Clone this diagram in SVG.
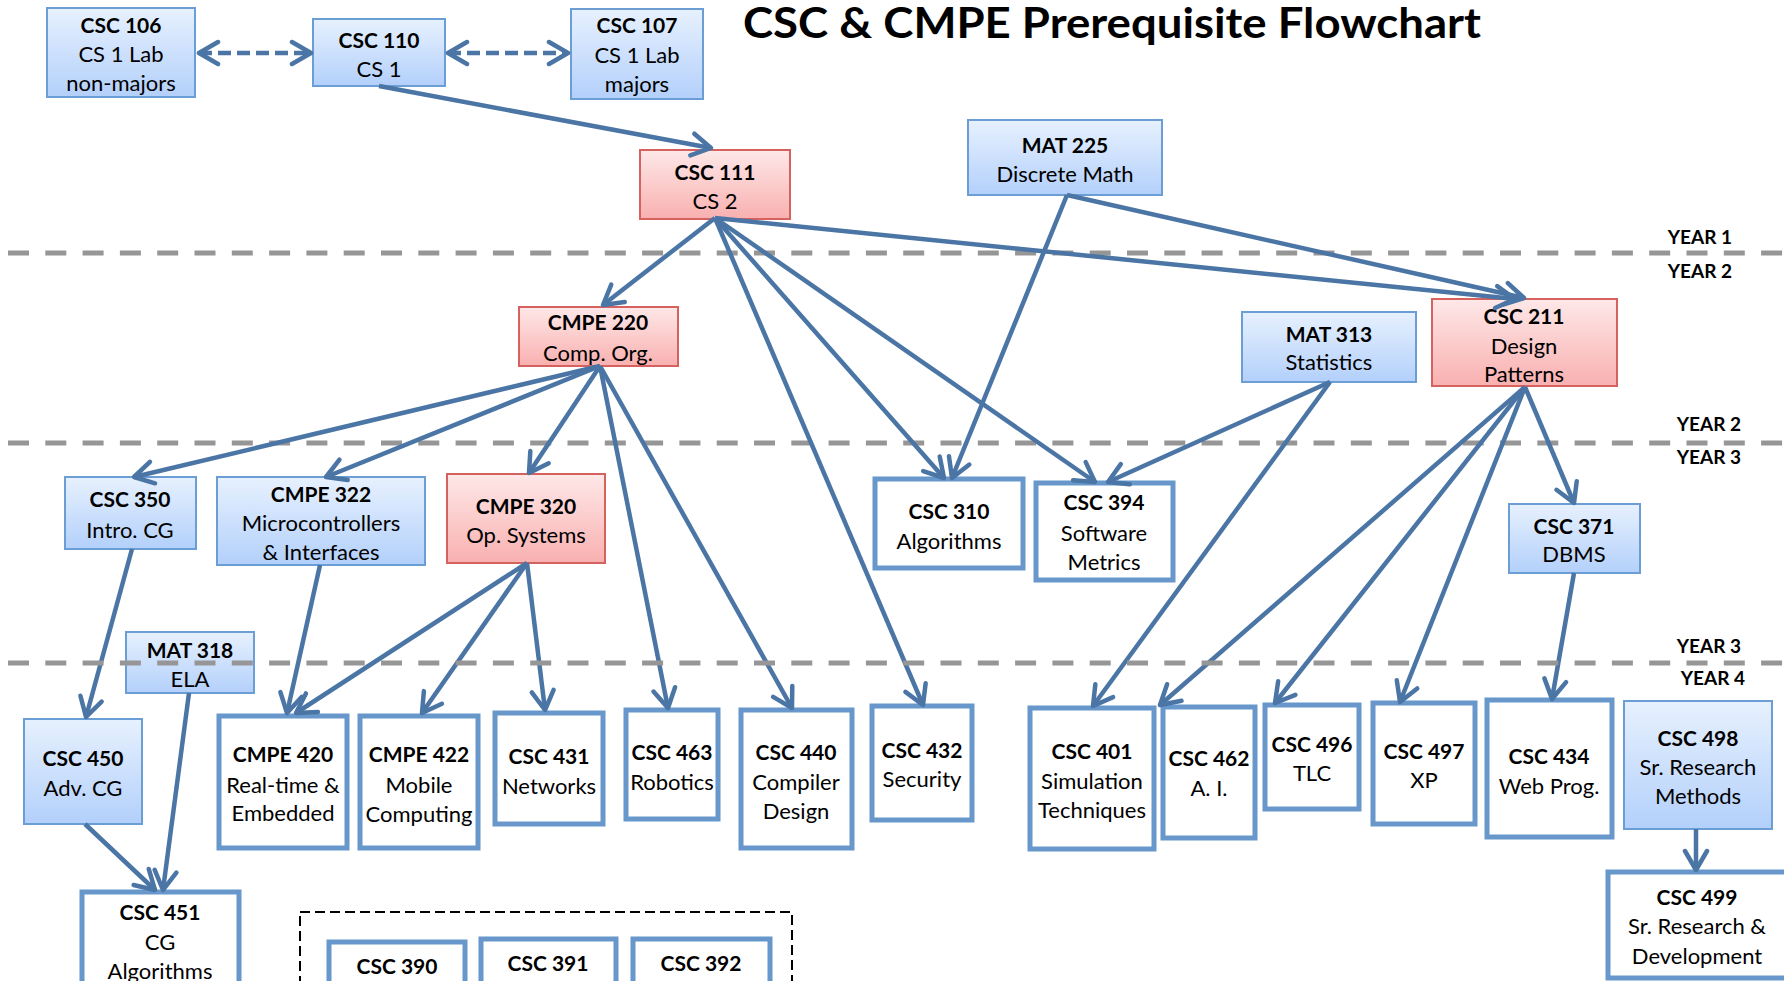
<svg xmlns="http://www.w3.org/2000/svg" width="1784" height="981" viewBox="0 0 1784 981">
<style>
.bl{fill:url(#gb);stroke:#6c9ed6;stroke-width:2}
.rd{fill:url(#gr);stroke:#d5625f;stroke-width:2}
.wt{fill:#ffffff;stroke:#6797cb;stroke-width:5}
text{font-family:Lato,"Liberation Sans",sans-serif;font-size:22px;text-anchor:middle;fill:#000}
.b{font-weight:bold;font-size:21px}
.yr{font-weight:bold;font-size:19px;text-anchor:end}
.title{font-weight:bold;font-size:42px}
.c line{stroke:#4a75a5;stroke-width:4.5;fill:none;marker-end:url(#ah)}
.c line.d{stroke-dasharray:13 6;marker-start:url(#ah)}
.yl{stroke:#969696;stroke-width:5;stroke-dasharray:21 16.3}
</style>
<defs>
<linearGradient id="gb" x1="0" y1="0" x2="0" y2="1"><stop offset="0" stop-color="#e7f1fe"/><stop offset="1" stop-color="#b3d0fb"/></linearGradient>
<linearGradient id="gr" x1="0" y1="0" x2="0" y2="1"><stop offset="0" stop-color="#fee8e8"/><stop offset="1" stop-color="#f9b0b0"/></linearGradient>
<marker id="ah" markerUnits="userSpaceOnUse" viewBox="-24 -14 28 28" markerWidth="28" markerHeight="28" refX="0" refY="0" orient="auto-start-reverse"><path d="M-19,-11 L0,0 L-19,11" fill="none" stroke="#4a75a5" stroke-width="4.5" stroke-linecap="round" stroke-linejoin="round"/></marker>
</defs>
<rect width="1784" height="981" fill="#ffffff"/>

<text class="title" x="1112" y="38" textLength="738" lengthAdjust="spacingAndGlyphs">CSC &amp; CMPE Prerequisite Flowchart</text>

<g id="year-lines">
<line class="yl" x1="8" y1="253" x2="1784" y2="253"/>
<line class="yl" x1="8" y1="443" x2="1784" y2="443"/>
<text class="yr" x="1732" y="244">YEAR 1</text>
<text class="yr" x="1732" y="278">YEAR 2</text>
<text class="yr" x="1741" y="431">YEAR 2</text>
<text class="yr" x="1741" y="464">YEAR 3</text>
<text class="yr" x="1741" y="653">YEAR 3</text>
<text class="yr" x="1745" y="685">YEAR 4</text>
</g>

<g id="dashed-group"><rect x="300" y="912" width="492" height="100" fill="none" stroke="#000" stroke-width="2" stroke-dasharray="10 5"/></g>

<g id="csc106"><rect class="bl" x="47" y="8" width="148" height="89"/><text class="b" x="121" y="33">CSC 106</text><text x="121" y="62">CS 1 Lab</text><text x="121" y="91">non-majors</text></g>
<g id="csc110"><rect class="bl" x="313" y="19" width="132" height="67"/><text class="b" x="379" y="48">CSC 110</text><text x="379" y="77">CS 1</text></g>
<g id="csc107"><rect class="bl" x="571" y="9" width="132" height="90"/><text class="b" x="637" y="33">CSC 107</text><text x="637" y="63">CS 1 Lab</text><text x="637" y="92">majors</text></g>
<g id="csc111"><rect class="rd" x="640" y="150" width="150" height="69"/><text class="b" x="715" y="180">CSC 111</text><text x="715" y="209">CS 2</text></g>
<g id="mat225"><rect class="bl" x="968" y="120" width="194" height="75"/><text class="b" x="1065" y="153">MAT 225</text><text x="1065" y="182">Discrete Math</text></g>
<g id="cmpe220"><rect class="rd" x="519" y="307" width="159" height="59"/><text class="b" x="598" y="330">CMPE 220</text><text x="598" y="361">Comp. Org.</text></g>
<g id="mat313"><rect class="bl" x="1242" y="312" width="174" height="70"/><text class="b" x="1329" y="342">MAT 313</text><text x="1329" y="370">Statistics</text></g>
<g id="csc211"><rect class="rd" x="1432" y="299" width="185" height="87"/><text class="b" x="1524" y="324">CSC 211</text><text x="1524" y="354">Design</text><text x="1524" y="382">Patterns</text></g>
<g id="csc350"><rect class="bl" x="65" y="477" width="131" height="72"/><text class="b" x="130" y="507">CSC 350</text><text x="130" y="538">Intro. CG</text></g>
<g id="cmpe322"><rect class="bl" x="217" y="477" width="208" height="88"/><text class="b" x="321" y="502">CMPE 322</text><text x="321" y="531">Microcontrollers</text><text x="321" y="560">&amp; Interfaces</text></g>
<g id="cmpe320"><rect class="rd" x="447" y="474" width="158" height="89"/><text class="b" x="526" y="514">CMPE 320</text><text x="526" y="543">Op. Systems</text></g>
<g id="csc310"><rect class="wt" x="875" y="479" width="148" height="89"/><text class="b" x="949" y="519">CSC 310</text><text x="949" y="549">Algorithms</text></g>
<g id="csc394"><rect class="wt" x="1036" y="483" width="137" height="97"/><text class="b" x="1104" y="510">CSC 394</text><text x="1104" y="541">Software</text><text x="1104" y="570">Metrics</text></g>
<g id="csc371"><rect class="bl" x="1509" y="504" width="131" height="69"/><text class="b" x="1574" y="534">CSC 371</text><text x="1574" y="562">DBMS</text></g>
<g id="mat318"><rect class="bl" x="126" y="632" width="128" height="61"/><text class="b" x="190" y="658">MAT 318</text><text x="190" y="687">ELA</text></g>
<g id="csc450"><rect class="bl" x="24" y="719" width="118" height="105"/><text class="b" x="83" y="766">CSC 450</text><text x="83" y="796">Adv. CG</text></g>
<g id="cmpe420"><rect class="wt" x="219" y="716" width="128" height="132"/><text class="b" x="283" y="762">CMPE 420</text><text x="283" y="793">Real-time &amp;</text><text x="283" y="821">Embedded</text></g>
<g id="cmpe422"><rect class="wt" x="360" y="716" width="118" height="132"/><text class="b" x="419" y="762">CMPE 422</text><text x="419" y="793">Mobile</text><text x="419" y="822">Computing</text></g>
<g id="csc431"><rect class="wt" x="495" y="713" width="108" height="111"/><text class="b" x="549" y="764">CSC 431</text><text x="549" y="794">Networks</text></g>
<g id="csc463"><rect class="wt" x="626" y="710" width="92" height="109"/><text class="b" x="672" y="760">CSC 463</text><text x="672" y="790">Robotics</text></g>
<g id="csc440"><rect class="wt" x="741" y="710" width="111" height="138"/><text class="b" x="796" y="760">CSC 440</text><text x="796" y="790">Compiler</text><text x="796" y="819">Design</text></g>
<g id="csc432"><rect class="wt" x="872" y="706" width="100" height="114"/><text class="b" x="922" y="758">CSC 432</text><text x="922" y="787">Security</text></g>
<g id="csc401"><rect class="wt" x="1030" y="708" width="124" height="141"/><text class="b" x="1092" y="759">CSC 401</text><text x="1092" y="789">Simulation</text><text x="1092" y="818">Techniques</text></g>
<g id="csc462"><rect class="wt" x="1163" y="707" width="92" height="131"/><text class="b" x="1209" y="766">CSC 462</text><text x="1209" y="796">A. I.</text></g>
<g id="csc496"><rect class="wt" x="1265" y="705" width="94" height="104"/><text class="b" x="1312" y="752">CSC 496</text><text x="1312" y="781">TLC</text></g>
<g id="csc497"><rect class="wt" x="1373" y="703" width="102" height="121"/><text class="b" x="1424" y="759">CSC 497</text><text x="1424" y="788">XP</text></g>
<g id="csc434"><rect class="wt" x="1487" y="700" width="125" height="137"/><text class="b" x="1549" y="764">CSC 434</text><text x="1549" y="794">Web Prog.</text></g>
<g id="csc498"><rect class="bl" x="1624" y="701" width="148" height="128"/><text class="b" x="1698" y="746">CSC 498</text><text x="1698" y="775">Sr. Research</text><text x="1698" y="804">Methods</text></g>
<g id="csc499"><rect class="wt" x="1608" y="872" width="180" height="106"/><text class="b" x="1697" y="905">CSC 499</text><text x="1697" y="934">Sr. Research &amp;</text><text x="1697" y="964">Development</text></g>
<g id="csc451"><rect class="wt" x="82" y="892" width="157" height="110"/><text class="b" x="160" y="920">CSC 451</text><text x="160" y="950">CG</text><text x="160" y="979">Algorithms</text></g>
<g id="csc390"><rect class="wt" x="329" y="942" width="136" height="60"/><text class="b" x="397" y="974">CSC 390</text></g>
<g id="csc391"><rect class="wt" x="481" y="939" width="135" height="60"/><text class="b" x="548" y="971">CSC 391</text></g>
<g id="csc392"><rect class="wt" x="633" y="939" width="137" height="60"/><text class="b" x="701" y="971">CSC 392</text></g>

<g id="connectors" class="c">
<line class="d" x1="199" y1="53" x2="311" y2="53"/>
<line class="d" x1="448" y1="53" x2="568" y2="53"/>
<line x1="379" y1="86" x2="711" y2="148"/>
<line x1="715" y1="218" x2="603" y2="305"/>
<line x1="715" y1="218" x2="1515" y2="299"/>
<line x1="715" y1="218" x2="944" y2="478"/>
<line x1="715" y1="218" x2="1095" y2="482"/>
<line x1="715" y1="218" x2="923" y2="705"/>
<line x1="1067" y1="195" x2="952" y2="478"/>
<line x1="1067" y1="195" x2="1524" y2="298"/>
<line x1="600" y1="366" x2="134" y2="477"/>
<line x1="600" y1="366" x2="326" y2="477"/>
<line x1="600" y1="366" x2="529" y2="473"/>
<line x1="600" y1="366" x2="668" y2="708"/>
<line x1="600" y1="366" x2="792" y2="708"/>
<line x1="1330" y1="382" x2="1108" y2="482"/>
<line x1="1330" y1="382" x2="1093" y2="706"/>
<line x1="1525" y1="387" x2="1574" y2="503"/>
<line x1="1525" y1="387" x2="1160" y2="705"/>
<line x1="1525" y1="387" x2="1275" y2="703"/>
<line x1="1525" y1="387" x2="1400" y2="702"/>
<line x1="1574" y1="573" x2="1552" y2="699"/>
<line x1="132" y1="549" x2="86" y2="717"/>
<line x1="320" y1="565" x2="287" y2="713"/>
<line x1="527" y1="563" x2="296" y2="713"/>
<line x1="527" y1="563" x2="422" y2="713"/>
<line x1="527" y1="563" x2="545" y2="710"/>
<line x1="189" y1="693" x2="163" y2="890"/>
<line x1="85" y1="824" x2="155" y2="890"/>
<line x1="1696" y1="829" x2="1696" y2="870"/>
</g>

<g id="year-line-3"><line class="yl" x1="8" y1="663" x2="1784" y2="663"/></g>
</svg>
